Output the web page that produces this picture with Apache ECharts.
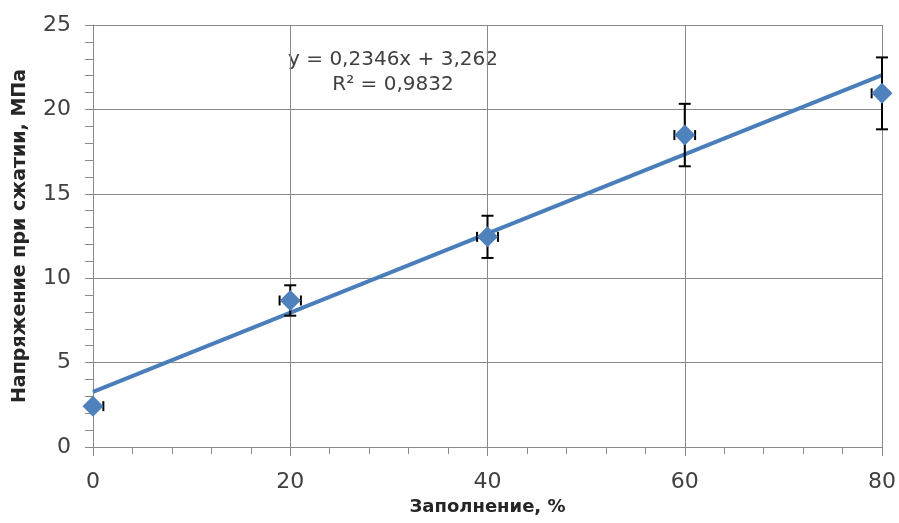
<!DOCTYPE html>
<html><head><meta charset="utf-8">
<script src="https://cdn.jsdelivr.net/npm/echarts@6/dist/echarts.min.js"></script>
<style>html,body{margin:0;padding:0;background:#fff}#c{width:899px;height:523px}</style>
</head><body><div id="c"></div>
<script>
var xValues = [0, 20, 40, 60, 80];
var yValues = [2.42, 8.68, 12.45, 18.48, 20.95];
var yErr = [0, 0.9, 1.25, 1.85, 2.13];
var xErr = [1.05, 1.08, 1.06, 1.05, 1.05];
var trendSlope = 0.2346, trendIntercept = 3.262;
var trendX = [0, 80];
var xMin = 0, xMax = 80;

var pts = xValues.map(function(x,i){return [x, yValues[i]];});
var errData = xValues.map(function(x,i){return [x, yValues[i], xErr[i], yErr[i]];});
var trend = trendX.map(function(x){return [x, trendSlope*x + trendIntercept];});

var chart = echarts.init(document.getElementById('c'));
var font = '"DejaVu Sans", sans-serif';
var gridColor = '#8a8a8a';
chart.setOption({
  animation:false,
  grid:{left:93,right:15,top:25,bottom:76},
  xAxis:{type:'value',min:xMin,max:xMax,interval:20,
    name:'Заполнение, %',nameLocation:'middle',nameGap:49,
    nameTextStyle:{fontFamily:font,fontWeight:'bold',fontSize:18,color:'#262626'},
    axisLine:{lineStyle:{color:gridColor,width:1}},
    axisTick:{show:true,length:9,lineStyle:{color:gridColor}},
    minorTick:{show:true,splitNumber:5,length:7,lineStyle:{color:gridColor}},
    splitLine:{show:true,lineStyle:{color:gridColor,width:1}},
    axisLabel:{fontFamily:font,fontSize:22,color:'#404040',margin:24}
  },
  yAxis:{type:'value',min:0,max:25,interval:5,
    name:'Напряжение при сжатии, МПа',nameLocation:'middle',nameGap:63,
    nameTextStyle:{fontFamily:font,fontWeight:'bold',fontSize:19,color:'#262626'},
    axisLine:{show:true,lineStyle:{color:gridColor,width:1}},
    axisTick:{show:true,length:8,lineStyle:{color:gridColor}},
    minorTick:{show:true,splitNumber:5,length:8,lineStyle:{color:gridColor}},
    splitLine:{show:true,lineStyle:{color:gridColor,width:1}},
    axisLabel:{fontFamily:font,fontSize:22,color:'#404040',margin:22}
  },
  series:[
    {type:'line',data:trend,symbol:'none',lineStyle:{color:'#4a7ebb',width:4},z:2,silent:true},
    {type:'custom',data:errData,z:3,
      renderItem:function(params,api){
        var x=api.value(0),y=api.value(1),ex=api.value(2),ey=api.value(3);
        var top=api.coord([x,y+ey]), bot=api.coord([x,y-ey]);
        var lx=Math.max(x-ex,xMin), rx=Math.min(x+ex,xMax);
        var l=api.coord([lx,y]), r=api.coord([rx,y]);
        var st={stroke:'#000',lineWidth:2};
        var cap=6, capv=5;
        var ch=[];
        if(ey>0){
          ch.push({type:'line',shape:{x1:top[0],y1:top[1],x2:bot[0],y2:bot[1]},style:st});
          ch.push({type:'line',shape:{x1:top[0]-cap,y1:top[1],x2:top[0]+cap,y2:top[1]},style:st});
          ch.push({type:'line',shape:{x1:bot[0]-cap,y1:bot[1],x2:bot[0]+cap,y2:bot[1]},style:st});
        }
        ch.push({type:'line',shape:{x1:l[0],y1:l[1],x2:r[0],y2:r[1]},style:st});
        if(x-ex>=xMin) ch.push({type:'line',shape:{x1:l[0],y1:l[1]-capv,x2:l[0],y2:l[1]+capv},style:st});
        if(x+ex<=xMax) ch.push({type:'line',shape:{x1:r[0],y1:r[1]-capv,x2:r[0],y2:r[1]+capv},style:st});
        return {type:'group',children:ch};
      }
    },
    {type:'scatter',data:pts,symbol:'diamond',symbolSize:21,itemStyle:{color:'#4f81bd',opacity:1},z:4}
  ],
  graphic:[
    {type:'text',x:393,y:60,style:{text:'y = 0,2346x + 3,262',font:'20px '+font,fill:'#404040',align:'center',verticalAlign:'middle'}},
    {type:'text',x:393,y:85,style:{text:'R² = 0,9832',font:'20px '+font,fill:'#404040',align:'center',verticalAlign:'middle'}}
  ]
});
</script></body></html>
